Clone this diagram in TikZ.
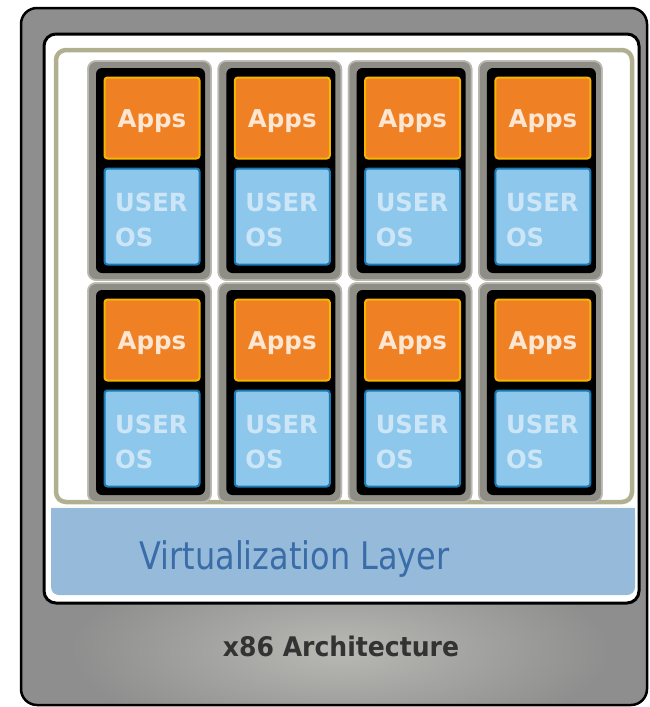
\documentclass[tikz,border=0pt]{standalone}
\usepackage{fontspec}
\setmainfont{DejaVu Sans}
\definecolor{outergray}{HTML}{8E8E8E}
\definecolor{shinegray}{HTML}{B8B8B4}
\definecolor{khaki}{HTML}{B0B090}
\definecolor{layerblue}{HTML}{96BADA}
\definecolor{layertext}{HTML}{3A6CA8}
\definecolor{archtext}{HTML}{333333}
\definecolor{framegray}{HTML}{8E8E86}
\definecolor{frameedge}{HTML}{B8B8B0}
\definecolor{appsfill}{HTML}{F08024}
\definecolor{appsedge}{HTML}{F7B500}
\definecolor{appstext}{HTML}{FDE6D2}
\definecolor{osfill}{HTML}{8DC7EB}
\definecolor{osedge}{HTML}{1B7AB3}
\definecolor{ostext}{HTML}{CCE6F7}
\begin{document}
\begin{tikzpicture}[x=1pt,y=-1pt,
  vmframe/.style={draw=frameedge, line width=1.5pt, fill=framegray, rounded corners=8pt},
  vmcore/.style={fill=black, rounded corners=6pt},
  appsbox/.style={draw=appsedge, line width=2pt, fill=appsfill, rounded corners=3pt, minimum width=95pt, minimum height=81pt, inner sep=0pt},
  osbox/.style={draw=osedge, line width=2pt, fill=osfill, rounded corners=3pt, minimum width=95pt, minimum height=96pt, inner sep=0pt},
  appslabel/.style={text=appstext, font=\bfseries\fontsize{24.5}{24.5}\selectfont, inner sep=0pt, anchor=base},
  oslabel/.style={text=ostext, font=\bfseries\fontsize{25}{35}\selectfont, inner sep=0pt, anchor=base west, xscale=0.97}
]
\useasboundingbox (0,0) rectangle (650,707);
% outer x86 box
\begin{scope}
  \clip[rounded corners=16pt] (21,8) rectangle (647,705);
  \fill[outergray] (0,0) rectangle (650,707);
  \shade[inner color=shinegray, outer color=outergray] (340,650) ellipse [x radius=270pt, y radius=95pt];
\end{scope}
\draw[black, line width=2.5pt, rounded corners=16pt] (21,8) rectangle (647,705);
% inner white box
\draw[black, line width=3pt, fill=white, rounded corners=12pt] (44,34) rectangle (639,603);
\draw[khaki, line width=4.5pt, rounded corners=10pt] (56,50) rectangle (632,502);
% virtualization layer
\fill[layerblue, rounded corners=8pt] (51,507) rectangle (635,595);
\fill[layerblue] (51,507) rectangle (635,540);
\draw[white!92!khaki, line width=2pt] (51,507) -- (635,507);
\node[text=layertext, font=\fontsize{38}{38}\selectfont, xscale=0.84, inner sep=0pt, anchor=base] (virt) at (294.5,569) {Virtualization Layer};
\node[text=archtext, font=\bfseries\fontsize{27}{27}\selectfont, xscale=0.93, inner sep=0pt, anchor=base] (arch) at (341,656) {x86 Architecture};
% virtual machines
\foreach \c in {0,...,3}{
  \foreach \r/\ry in {0/0,1/222}{
    \pgfmathsetmacro{\xo}{104+130.3*\c}
    \fill[vmframe] (\xo-16,61+\ry) rectangle (\xo+107,280+\ry);
    \draw[frameedge, line width=1.5pt, rounded corners=8pt] (\xo-16,61+\ry) rectangle (\xo+107,280+\ry);
    \fill[vmcore] (\xo-8,68+\ry) rectangle (\xo+101,273+\ry);
    \node[appsbox] (apps\r\c) at (\xo+48,118+\ry) {};
    \node[osbox] (os\r\c) at (\xo+48,216.5+\ry) {};
    \node[appslabel] (appst\r\c) at (\xo+48,127+\ry) {Apps};
    \node[oslabel] (ost\r\c) at (\xo+11,211+\ry) {USER};
    \node[oslabel] (ost2\r\c) at (\xo+11,246+\ry) {OS};
  }
}
\end{tikzpicture}
\end{document}
